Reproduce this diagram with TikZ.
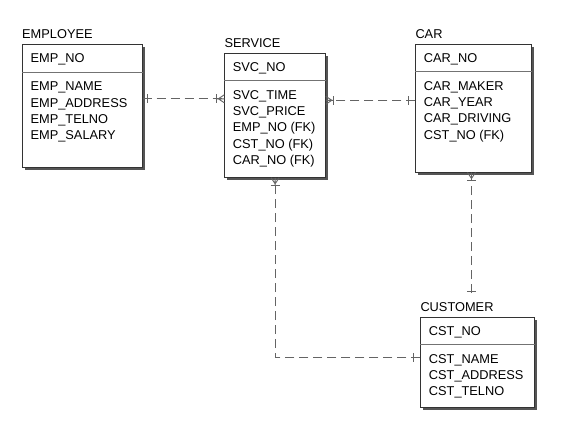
\documentclass[tikz,border=0pt]{standalone}
\usepackage{fontspec}
\setmainfont{Liberation Sans}
\usetikzlibrary{calc,positioning,shadows,decorations.markings}
\definecolor{linegray}{RGB}{100,100,100}
\definecolor{shadowgray}{RGB}{85,85,85}

\begin{document}
\begin{tikzpicture}[x=1pt,y=-1pt,
  entity/.style={draw=black!80,fill=white,line width=0.8pt,anchor=north west,
                 drop shadow={shadow xshift=2.5pt,shadow yshift=-2.5pt,
                              fill=shadowgray,opacity=1}},
  etitle/.style={anchor=base west,inner sep=0pt,font=\fontsize{12.8}{16.3}\selectfont},
  attr/.style={anchor=base west,inner sep=0pt,align=left,
               font=\fontsize{12.8}{16.3}\selectfont},
  divider/.style={draw=black!55,line width=0.8pt},
  rel/.style={draw=linegray,line width=0.9pt,dash pattern=on 9pt off 5pt},
  onebar/.style={postaction={decorate,decoration={markings,
      mark=at position #1 with {\draw[solid] (0,-4.5) -- (0,4.5);}}}},
  crowfoot/.style={postaction={decorate,decoration={markings,
      mark=at position -7.5pt with {\draw[solid] (0,-4.5) -- (0,4.5);},
      mark=at position 1 with {\draw[solid] (-6,0) -- (0,-4) (-6,0) -- (0,4)
                                            (-7.5,0) -- (0,0);}}}}
]
\useasboundingbox (0,0) rectangle (567,432);

\node[entity,minimum width=119.7,minimum height=122.4] (emp) at (22,44.3) {};
\node[entity,minimum width=100.7,minimum height=124] (svc) at (224.3,53) {};
\node[entity,minimum width=115.4,minimum height=127.7] (car) at (415.3,44) {};
\node[entity,minimum width=113.7,minimum height=90.3] (cst) at (420.3,317) {};

\node[etitle] (empT) at ($(emp.north west)+(0,-5.5)$) {EMPLOYEE};
\node[etitle] (svcT) at ($(svc.north west)+(0,-5.5)$) {SERVICE};
\node[etitle] (carT) at ($(car.north west)+(0,-5.5)$) {CAR};
\node[etitle] (cstT) at ($(cst.north west)+(0,-5.5)$) {CUSTOMER};

\draw[divider] ($(emp.north west)+(0,27.7)$) -- ($(emp.north east)+(0,27.7)$);
\draw[divider] ($(svc.north west)+(0,27.7)$) -- ($(svc.north east)+(0,27.7)$);
\draw[divider] ($(car.north west)+(0,27.7)$) -- ($(car.north east)+(0,27.7)$);
\draw[divider] ($(cst.north west)+(0,27.7)$) -- ($(cst.north east)+(0,27.7)$);

% multi-line nodes sit on the baseline of their last line
\node[attr] (empK) at ($(emp.north west)+(8.4,18.3)$) {EMP\_NO};
\node[attr] (empA) at ($(emp.north west)+(8.4,95.4)$)
  {EMP\_NAME\\EMP\_ADDRESS\\EMP\_TELNO\\EMP\_SALARY};
\node[attr] (svcK) at ($(svc.north west)+(8.4,18.3)$) {SVC\_NO};
\node[attr] (svcA) at ($(svc.north west)+(8.4,111.5)$)
  {SVC\_TIME\\SVC\_PRICE\\EMP\_NO (FK)\\CST\_NO (FK)\\CAR\_NO (FK)};
\node[attr] (carK) at ($(car.north west)+(8.4,18.3)$) {CAR\_NO};
\node[attr] (carA) at ($(car.north west)+(8.4,95.2)$)
  {CAR\_MAKER\\CAR\_YEAR\\CAR\_DRIVING\\CST\_NO (FK)};
\node[attr] (cstK) at ($(cst.north west)+(8.4,18.3)$) {CST\_NO};
\node[attr] (cstA) at ($(cst.north west)+(8.4,78.9)$)
  {CST\_NAME\\CST\_ADDRESS\\CST\_TELNO};

\coordinate (cstend) at ($(cst.north west)+(51.2,-24)$);

\draw[rel,onebar=5pt,crowfoot] ($(emp.north east)+(0,54.5)$) -- ($(svc.north west)+(0,45.8)$);
\draw[rel,onebar=7pt,crowfoot] ($(car.north west)+(0,56.3)$) -- ($(svc.north east)+(0,47.3)$);
\draw[rel,onebar=1.5pt,crowfoot] (cstend) -- (cstend |- car.south);
\draw[rel,onebar=7pt,crowfoot] ($(cst.north west)+(0,40)$) -| ($(svc.south west)+(50.8,0)$);
\end{tikzpicture}
\end{document}
